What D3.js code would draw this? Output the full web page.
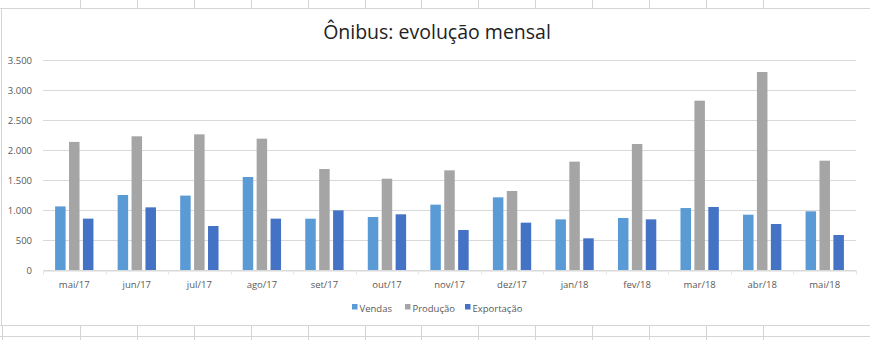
<!DOCTYPE html>
<html>
<head>
<meta charset="utf-8">
<script src="https://cdn.jsdelivr.net/npm/d3@7"></script>
<style>
  html, body { margin: 0; padding: 0; background: #fff; }
  svg { display: block; }
</style>
</head>
<body>
<svg id="chart"></svg>
<script>
// chart size
const width = 870;
const height = 340;

// data
const months = ["mai/17", "jun/17", "jul/17", "ago/17", "set/17", "out/17", "nov/17",
  "dez/17", "jan/18", "fev/18", "mar/18", "abr/18", "mai/18"];
const vendas = [1060, 1250, 1240, 1550, 855, 883, 1089, 1211, 844, 867, 1033, 922, 978];
const producao = [2135, 2228, 2261, 2189, 1683, 1522, 1661, 1317, 1806, 2100, 2822, 3300, 1822];
const exportacao = [856, 1044, 733, 856, 994, 928, 667, 789, 528, 844, 1050, 767, 583];
const seriesNames = ["Vendas", "Produção", "Exportação"];
const seriesColors = ["#5B9BD5", "#A5A5A5", "#4472C4"];
const yTicks = [0, 500, 1000, 1500, 2000, 2500, 3000, 3500];

const series = [vendas, producao, exportacao];
const fmt = d3.formatLocale({ decimal: ",", thousands: ".", grouping: [3], currency: ["R$", ""] }).format(",d");

const margin = { top: 60, right: 14, bottom: 70, left: 43 };

const svg = d3.select("#chart")
  .attr("width", width)
  .attr("height", height)
  .style("font-family", "'Open Sans', sans-serif");

// spreadsheet cells around the chart
const cellX = d3.range(13).map(i => 80 + i * 56.9);
const cells = svg.append("g").attr("stroke", "#D4D4D4").attr("stroke-width", 1);
cells.append("line").attr("x1", 0).attr("x2", width).attr("y1", 8.5).attr("y2", 8.5);
cells.append("line").attr("x1", 0).attr("x2", width).attr("y1", 325.5).attr("y2", 325.5);
cells.append("line").attr("x1", 0).attr("x2", width).attr("y1", 336.5).attr("y2", 336.5);
cells.selectAll(".top").data(cellX).join("line")
  .attr("x1", d => Math.round(d) + 0.5).attr("x2", d => Math.round(d) + 0.5)
  .attr("y1", 0).attr("y2", 8);
cells.selectAll(".bot").data([2].concat(cellX)).join("line")
  .attr("x1", d => Math.round(d) + 0.5).attr("x2", d => Math.round(d) + 0.5)
  .attr("y1", 326).attr("y2", height);
// chart frame left edge
cells.append("line").attr("x1", 1.5).attr("x2", 1.5).attr("y1", 8).attr("y2", 326);

// scales
const x = d3.scaleBand()
  .domain(months)
  .range([margin.left, width - margin.right])
  .padding(0);

const groupW = x.bandwidth() * 0.613;
const xs = d3.scaleBand()
  .domain(seriesNames)
  .range([0, groupW])
  .paddingInner(0.245)
  .paddingOuter(0);

const y = d3.scaleLinear()
  .domain([0, 3500])
  .range([height - margin.bottom, margin.top]);

// gridlines
svg.append("g")
  .selectAll("line")
  .data(yTicks)
  .join("line")
  .attr("x1", margin.left)
  .attr("x2", width - margin.right)
  .attr("y1", d => Math.round(y(d)) + 0.5)
  .attr("y2", d => Math.round(y(d)) + 0.5)
  .attr("stroke", "#D9D9D9");

// y axis labels
const yAxis = svg.append("g")
  .attr("transform", `translate(${margin.left},0)`)
  .call(d3.axisLeft(y).tickValues(yTicks).tickFormat(fmt).tickSize(0).tickPadding(11));
yAxis.select(".domain").remove();
yAxis.selectAll("text")
  .attr("fill", "#595959")
  .style("font-size", "9.5px")
  .style("font-family", "'Open Sans', sans-serif");

// x axis
const xAxis = svg.append("g")
  .attr("transform", `translate(0,${Math.round(y(0)) + 0.5})`)
  .call(d3.axisBottom(x).tickSize(0).tickPadding(11));
xAxis.select(".domain").attr("stroke", "#D9D9D9");
xAxis.selectAll("text")
  .attr("fill", "#595959")
  .style("font-size", "9.5px")
  .style("font-family", "'Open Sans', sans-serif");
// tick marks between categories
xAxis.append("g")
  .selectAll("line")
  .data(months.concat(["end"]))
  .join("line")
  .attr("x1", (d, i) => Math.round(margin.left + i * x.step()) + 0.5)
  .attr("x2", (d, i) => Math.round(margin.left + i * x.step()) + 0.5)
  .attr("y1", 0)
  .attr("y2", 4)
  .attr("stroke", "#E6E6E6");

// bars
const groups = svg.append("g")
  .selectAll("g")
  .data(months)
  .join("g")
  .attr("transform", d => `translate(${x(d) + (x.bandwidth() - groupW) / 2},0)`);

groups.selectAll("rect")
  .data((m, i) => seriesNames.map((s, j) => ({ s, j, v: series[j][i] })))
  .join("rect")
  .attr("x", d => xs(d.s))
  .attr("width", xs.bandwidth())
  .attr("y", d => y(d.v))
  .attr("height", d => y(0) - y(d.v))
  .attr("fill", d => seriesColors[d.j]);

// title
svg.append("text")
  .attr("x", 437)
  .attr("y", 39)
  .attr("text-anchor", "middle")
  .attr("fill", "#222")
  .style("font-size", "19.5px")
  .text("Ônibus: evolução mensal");

// legend
const legendX = [352, 405, 465];
const legend = svg.append("g")
  .selectAll("g")
  .data(seriesNames)
  .join("g")
  .attr("transform", (d, i) => `translate(${legendX[i]},308)`);
legend.append("rect")
  .attr("x", 0).attr("y", -4)
  .attr("width", 5.5).attr("height", 5.5)
  .attr("fill", (d, i) => seriesColors[i]);
legend.append("text")
  .attr("x", 7.5)
  .attr("y", 3.5)
  .attr("fill", "#595959")
  .style("font-size", "9.5px")
  .text(d => d);
</script>
</body>
</html>
